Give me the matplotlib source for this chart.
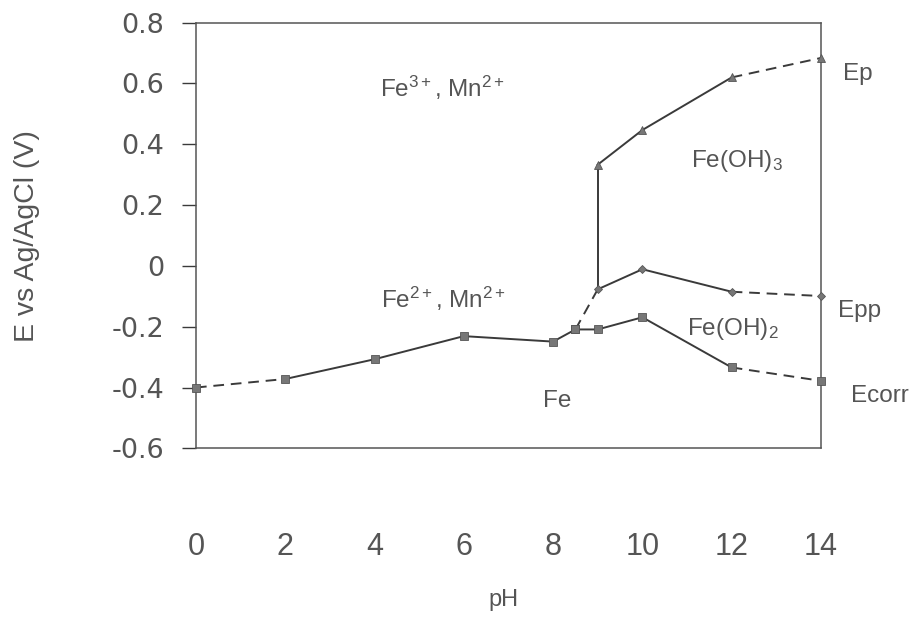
import matplotlib
matplotlib.use('Agg')
import matplotlib.pyplot as plt

# ---- data ----
ph_fe = [0, 2, 4, 6, 8, 8.5]
e_fe = [-0.40, -0.372, -0.307, -0.231, -0.249, -0.209]

ph_ecorr = [8.5, 9, 10, 12, 14]
e_ecorr = [-0.209, -0.209, -0.169, -0.334, -0.378]

ph_epp = [9, 10, 12, 14]
e_epp = [-0.077, -0.011, -0.085, -0.099]

ph_ep = [9, 10, 12, 14]
e_ep = [0.333, 0.447, 0.62, 0.684]

y_ticks = [0.8, 0.6, 0.4, 0.2, 0, -0.2, -0.4, -0.6]
y_labels = ['0.8', '0.6', '0.4', '0.2', '0', '-0.2', '-0.4', '-0.6']
x_ticks = [0, 2, 4, 6, 8, 10, 12, 14]

# region names (x, baseline y, text)
regions = [
    (4.12, 0.555, r'Fe$^{\mathrm{3+}}$, Mn$^{\mathrm{2+}}$'),
    (4.14, -0.138, r'Fe$^{\mathrm{2+}}$, Mn$^{\mathrm{2+}}$'),
    (7.77, -0.464, 'Fe'),
    (11.08, 0.325, r'Fe(OH)$_{\mathrm{3}}$'),
    (10.99, -0.227, r'Fe(OH)$_{\mathrm{2}}$'),
]
side_labels = [(14.49, 0.611, 'Ep'), (14.38, -0.168, 'Epp'), (14.67, -0.447, 'Ecorr')]

plt.rcParams['font.family'] = ['Liberation Sans', 'DejaVu Sans']
plt.rcParams['mathtext.fontset'] = 'custom'
plt.rcParams['mathtext.rm'] = 'Liberation Sans'
plt.rcParams['mathtext.it'] = 'Liberation Sans:italic'
plt.rcParams['mathtext.bf'] = 'Liberation Sans:bold'

TXT = '#555555'
LN = '#3a3a3a'
MK = '#777777'

fig = plt.figure(figsize=(9.14, 6.2), dpi=100)
ax = fig.add_axes([0.2144, 0.2769, 0.6838, 0.6865])

lw = 1.4
dash = (5.5, 3.5)

def seg(x, y, dashed=False):
    if dashed:
        ax.plot(x, y, color=LN, lw=lw, dashes=dash, clip_on=False, zorder=2)
    else:
        ax.plot(x, y, color=LN, lw=lw, clip_on=False, zorder=2)

# Fe / Fe2+ boundary
seg(ph_fe[:2], e_fe[:2], dashed=True)
seg(ph_fe[1:], e_fe[1:])
# link to Epp start
seg([ph_fe[-1], ph_epp[0]], [e_fe[-1], e_epp[0]], dashed=True)
# Ecorr
seg(ph_ecorr[:-1], e_ecorr[:-1])
seg(ph_ecorr[-2:], e_ecorr[-2:], dashed=True)
# Epp
seg(ph_epp[:-1], e_epp[:-1])
seg(ph_epp[-2:], e_epp[-2:], dashed=True)
# Ep
seg(ph_ep[:-1], e_ep[:-1])
seg(ph_ep[-2:], e_ep[-2:], dashed=True)
# vertical at pH 9
seg([ph_epp[0], ph_ep[0]], [e_epp[0], e_ep[0]])

mk = dict(ls='none', color=MK, markeredgecolor='#555555', markeredgewidth=0.6,
          clip_on=False, zorder=3)
ax.plot(ph_fe, e_fe, marker='s', markersize=6, **mk)
ax.plot(ph_ecorr, e_ecorr, marker='s', markersize=6, **mk)
ax.plot(ph_epp, e_epp, marker='D', markersize=4.5, **mk)
ax.plot(ph_ep, e_ep, marker='^', markersize=6, **mk)

for x, y, s in regions:
    ax.text(x, y, s, fontsize=17.5, color=TXT, ha='left', va='baseline')
for x, y, s in side_labels:
    ax.text(x, y, s, fontsize=17.5, color=TXT, ha='left', va='baseline', clip_on=False)

ax.set_xlim(0, 14)
ax.set_ylim(-0.6, 0.8)
ax.set_yticks(y_ticks)
ax.set_yticklabels(y_labels, family=['DejaVu Sans'])
ax.set_xticks(x_ticks)
ax.set_xticklabels([str(v) for v in x_ticks])
ax.tick_params(axis='y', direction='out', length=10, width=1.0, color=LN,
               labelsize=19.5, labelcolor=TXT, pad=13)
ax.tick_params(axis='x', direction='out', length=0, labelsize=22,
               labelcolor=TXT, pad=60)
for sp in ax.spines.values():
    sp.set_color('#555555')
    sp.set_linewidth(1.1)

fig.text(0.030, 0.619, 'E vs Ag/AgCl (V)', rotation=90, fontsize=20.5,
         color=TXT, ha='center', va='center')
fig.text(0.551, 0.032, 'pH', fontsize=17, color=TXT, ha='center', va='center')

fig.savefig('out.png', dpi=100)
